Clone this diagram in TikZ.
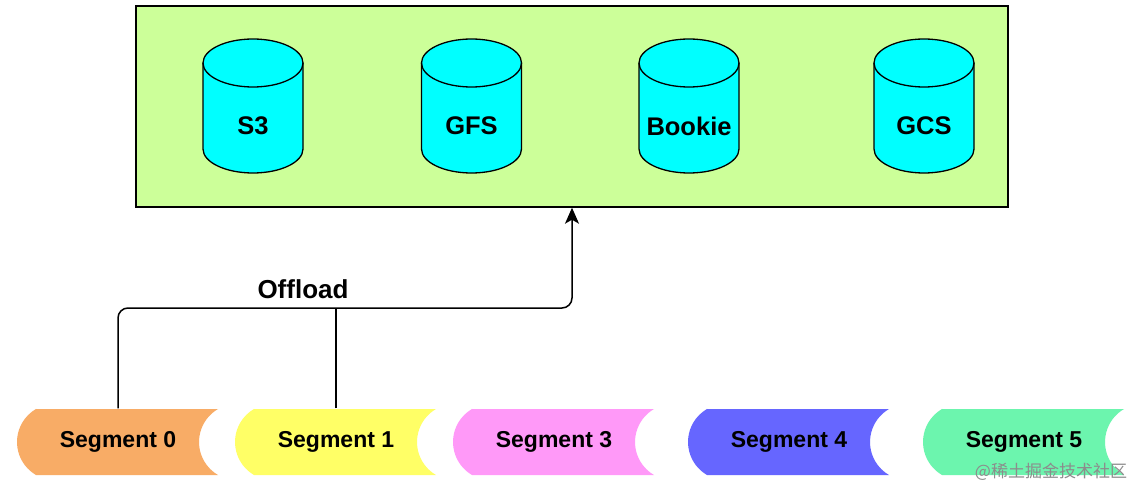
\documentclass[tikz,border=0pt]{standalone}
\usepackage{fontspec}
\setmainfont{Liberation Sans}
\newfontfamily\cjk{Noto Sans CJK SC}
\usetikzlibrary{arrows.meta}
\definecolor{boxgreen}{HTML}{CCFF99}
\definecolor{cyl}{HTML}{00FFFF}
\definecolor{segA}{HTML}{F8AC66}
\definecolor{segB}{HTML}{FFFF66}
\definecolor{segC}{HTML}{FF99F8}
\definecolor{segD}{HTML}{6666FF}
\definecolor{segE}{HTML}{6CF5AE}
\newcommand\cylshape[1]{%
  \fill[cyl] (#1-50,433) -- (#1-50,347) arc[start angle=180,end angle=360,x radius=50,y radius=24] -- (#1+50,433) arc[start angle=0,end angle=180,x radius=50,y radius=24] -- cycle;
  \draw (#1-50,433) -- (#1-50,347) arc[start angle=180,end angle=360,x radius=50,y radius=24] -- (#1+50,433);
  \draw (#1,433) ellipse[x radius=50,y radius=24];
}
\newcommand\segshape[2]{%
  \fill[#2] (#1+18,87) -- (#1+200,87) arc[start angle=120.2,end angle=239.8,radius=38.2] -- (#1+18,21) arc[start angle=239.8,end angle=120.2,radius=38.2] -- cycle;
}
\begin{document}
\begin{tikzpicture}[x=1pt,y=1pt,line width=1.3pt,
  segtext/.style={font=\fontsize{23}{23}\selectfont\bfseries, minimum width=200pt, minimum height=66pt, inner sep=0pt},
  cyltext/.style={font=\fontsize{25.5}{25.5}\selectfont\bfseries, minimum width=100pt, minimum height=134pt, inner sep=0pt},
  link/.style={line width=1.5pt}]
\useasboundingbox (0,0) rectangle (1148,496);
\fill[white] (0,0) rectangle (1148,496);

\node[draw, fill=boxgreen, minimum width=872pt, minimum height=201pt, inner sep=0pt, line width=1.4pt] (store) at (572,389.5) {};

\cylshape{253}
\cylshape{471.5}
\cylshape{689}
\cylshape{924}
\node[cyltext] (c1) at (253,370) {S3};
\node[cyltext] (c2) at (471.5,370) {GFS};
\node[cyltext] (c3) at (689,370) {Bookie};
\node[cyltext] (c4) at (924,370) {GCS};

\segshape{18}{segA}
\segshape{236}{segB}
\segshape{454}{segC}
\segshape{689}{segD}
\segshape{924}{segE}
\node[segtext] (s0) at (118,54) {Segment 0};
\node[segtext] (s1) at (336,54) {Segment 1};
\node[segtext] (s3) at (554,54) {Segment 3};
\node[segtext] (s4) at (789,54) {Segment 4};
\node[segtext] (s5) at (1024,54) {Segment 5};

\coordinate (j) at (336,188);
\draw[link, -{Stealth[length=16pt,width=14pt,inset=4pt]}, rounded corners=10pt] (s0.north) |- (j) -| (store.south);
\draw[link] (s1.north) -- (j);
\node[font=\fontsize{26}{26}\selectfont\bfseries] (off) at (303,207) {Offload};

\node[text=black!45, font=\cjk\fontsize{17}{17}\selectfont, inner sep=0pt] (wm) at (1051,24) {@稀土掘金技术社区};
\end{tikzpicture}
\end{document}
